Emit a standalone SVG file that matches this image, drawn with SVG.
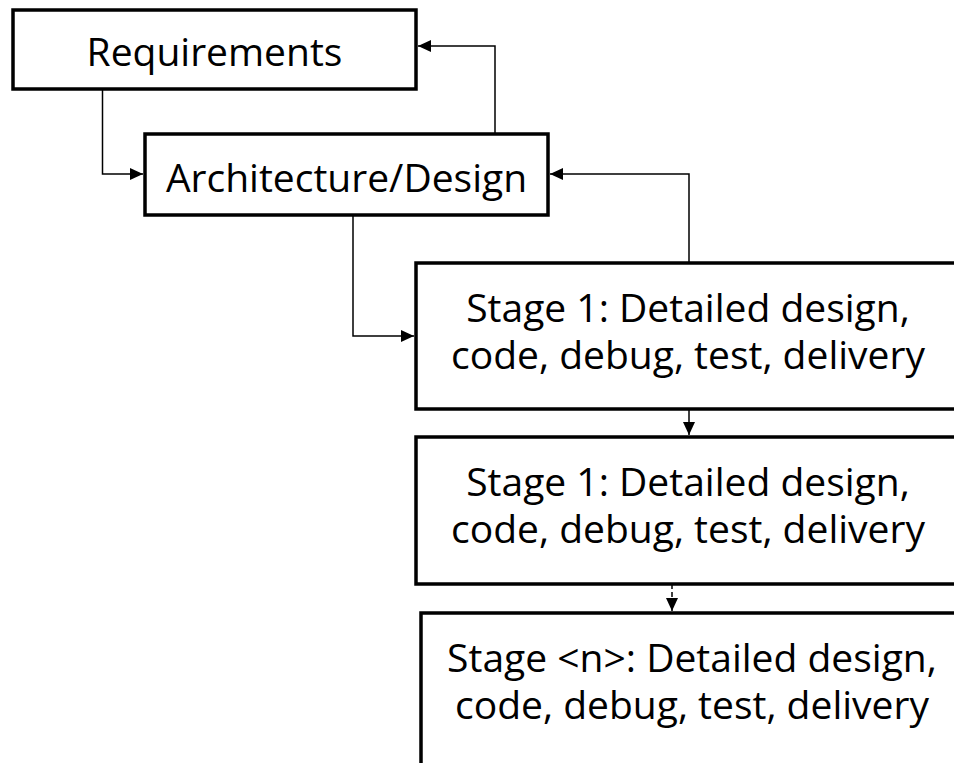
<svg xmlns="http://www.w3.org/2000/svg" width="954" height="763" viewBox="0 0 954 763">
<defs>
<style>
.box{fill:#fff;stroke:#000;stroke-width:3.5}
.t{font-family:"Open Sans","Noto Sans","Liberation Sans",sans-serif;font-size:39px;fill:#000;text-anchor:middle}
.c{fill:none;stroke:#000;stroke-width:1.5}
.d{stroke-dasharray:5,3}
</style>
<marker id="ah" viewBox="0 0 13 12" refX="13" refY="6" markerWidth="13" markerHeight="12" markerUnits="userSpaceOnUse" orient="auto">
<path d="M0,0 L13,6 L0,12 Z" fill="#000"/>
</marker>
</defs>
<g id="connectors">
<path class="c" d="M102.5,89 V174 H143" marker-end="url(#ah)"/>
<path class="c" d="M495,134 V46 H418" marker-end="url(#ah)"/>
<path class="c" d="M353,215 V336 H414" marker-end="url(#ah)"/>
<path class="c" d="M689,263 V174 H550" marker-end="url(#ah)"/>
<path class="c" d="M689,409 V435" marker-end="url(#ah)"/>
<path class="c d" d="M672,584 V611" marker-end="url(#ah)"/>
</g>
<g id="requirements">
<rect class="box" x="13" y="10" width="403" height="79"/>
<text class="t" x="214.5" y="66">Requirements</text>
</g>
<g id="architecture">
<rect class="box" x="145" y="134" width="403" height="81"/>
<text class="t" x="346.5" y="192">Architecture/Design</text>
</g>
<g id="stage1">
<rect class="box" x="416" y="263" width="545" height="146"/>
<text class="t" x="688" y="322">Stage 1: Detailed design,<tspan x="688" dy="47">code, debug, test, delivery</tspan></text>
</g>
<g id="stage1b">
<rect class="box" x="416" y="437" width="545" height="147"/>
<text class="t" x="688" y="496">Stage 1: Detailed design,<tspan x="688" dy="47">code, debug, test, delivery</tspan></text>
</g>
<g id="stagen">
<rect class="box" x="421" y="613" width="545" height="160"/>
<text class="t" x="692" y="672">Stage &lt;n&gt;: Detailed design,<tspan x="692" dy="47">code, debug, test, delivery</tspan></text>
</g>
</svg>
